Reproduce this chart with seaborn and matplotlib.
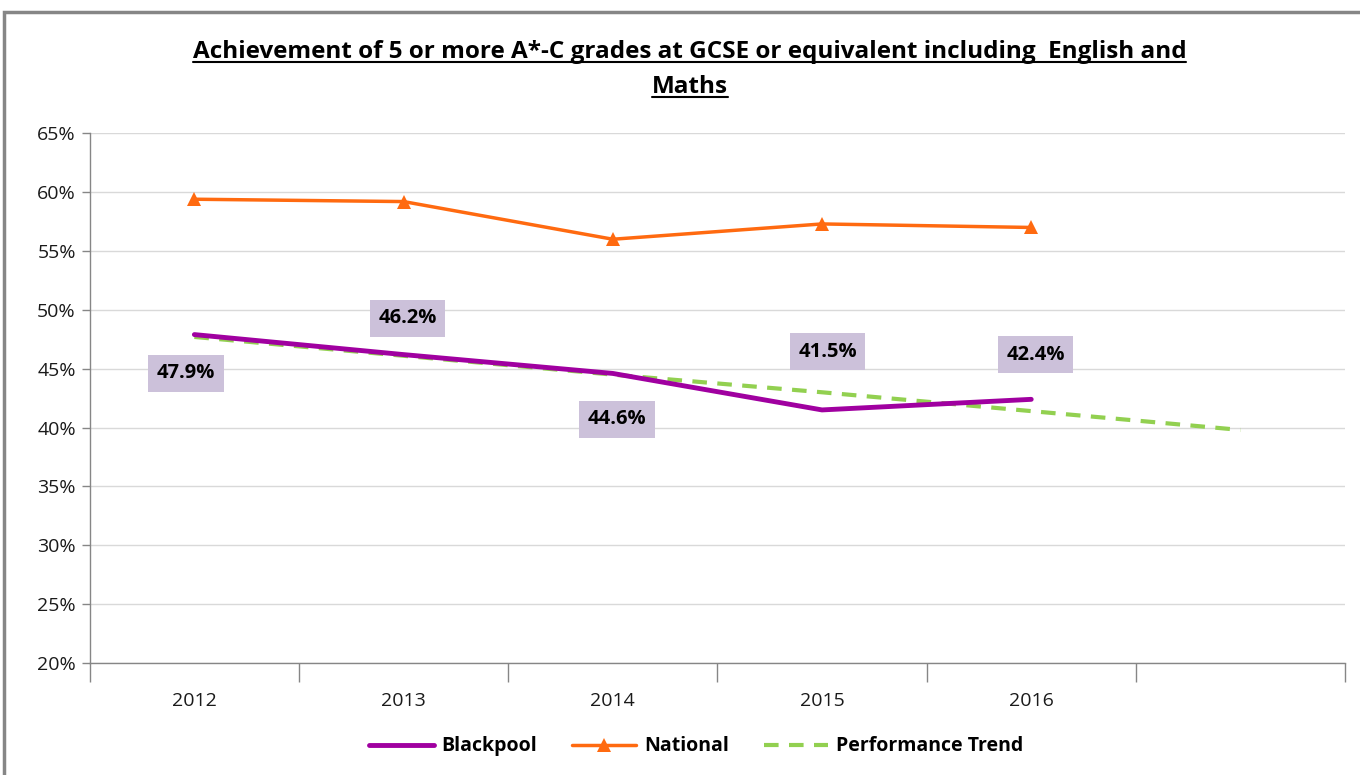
import matplotlib
matplotlib.use("Agg")
import matplotlib.pyplot as plt
import seaborn as sns
import pandas as pd
from matplotlib.lines import Line2D
from matplotlib.patches import Rectangle
from matplotlib.ticker import FuncFormatter, FixedLocator

# data
years = ["2012", "2013", "2014", "2015", "2016"]
blackpool = [47.9, 46.2, 44.6, 41.5, 42.4]
national = [59.4, 59.2, 56.0, 57.3, 57.0]
trend = [47.7, 46.1, 44.5, 43.0, 41.4, 39.8]   # runs one slot past 2016
label_text = ["47.9%", "46.2%", "44.6%", "41.5%", "42.4%"]

sns.set_theme(style="white")
plt.rcParams["font.family"] = ["Open Sans", "DejaVu Sans"]

df_b = pd.DataFrame({"pos": range(len(years)), "val": blackpool})
df_n = pd.DataFrame({"pos": range(len(years)), "val": national})
df_t = pd.DataFrame({"pos": range(len(trend)), "val": trend})

fig = plt.figure(figsize=(13.6, 7.75), dpi=100)
ax = fig.add_axes([0.066, 0.1445, 0.923, 0.6835])

sns.lineplot(data=df_t, x="pos", y="val", ax=ax, color="#92D050", lw=3,
             linestyle=(0, (3.5, 2.5)), label="Performance Trend", zorder=2)
sns.lineplot(data=df_b, x="pos", y="val", ax=ax, color="#A000A0", lw=3.5,
             label="Blackpool", zorder=3)
sns.lineplot(data=df_n, x="pos", y="val", ax=ax, color="#FF6A10", lw=2.5,
             marker="^", markersize=10, markeredgewidth=0, label="National", zorder=3)

# data labels for Blackpool
offsets = [(-6, -28), (3, 26), (3, -33), (4, 42), (3, 32)]
for i, (v, t) in enumerate(zip(blackpool, label_text)):
    ax.annotate(t, (i, v), xytext=offsets[i], textcoords="offset points",
                ha="center", va="center", fontsize=14.5, fontweight="bold",
                color="black", zorder=5,
                bbox=dict(boxstyle="square,pad=0.42", fc="#CCC1DA", ec="none"))

ax.set_xlim(-0.5, 5.5)
ax.set_ylim(20, 65)
ax.set_yticks(range(20, 70, 5))
ax.yaxis.set_major_formatter(FuncFormatter(lambda v, p: f"{int(v)}%"))
ax.yaxis.grid(True, color="#D9D9D9", lw=1)
ax.set_axisbelow(True)

ax.xaxis.set_major_locator(FixedLocator([x - 0.5 for x in range(7)]))
ax.xaxis.set_minor_locator(FixedLocator(list(range(len(years)))))
ax.set_xticklabels([], minor=False)
ax.set_xticklabels(years, minor=True)
ax.tick_params(axis="x", which="major", direction="out", length=14, width=1,
               color="#868686", bottom=True)
ax.tick_params(axis="x", which="minor", length=0, pad=21, labelsize=14,
               labelcolor="#1a1a1a")
ax.tick_params(axis="y", direction="out", length=6, width=1, color="#868686",
               left=True, labelsize=14, labelcolor="#1a1a1a", pad=4)
ax.set_xlabel("")
ax.set_ylabel("")

for s in ["top", "right"]:
    ax.spines[s].set_visible(False)
for s in ["left", "bottom"]:
    ax.spines[s].set_color("#868686")
    ax.spines[s].set_linewidth(1)

handles, labels = ax.get_legend_handles_labels()
order = [labels.index(n) for n in ["Blackpool", "National", "Performance Trend"]]
leg = fig.legend([handles[i] for i in order], [labels[i] for i in order],
                 loc="center", bbox_to_anchor=(0.512, 0.037), ncol=3, frameon=False,
                 prop={"weight": "bold", "size": 14}, handlelength=3.3,
                 columnspacing=1.8, handletextpad=0.4, labelcolor="black")
ax.get_legend().remove()

# title with underline
title_lines = ["Achievement of 5 or more A*-C grades at GCSE or equivalent including  English and",
               "Maths"]
title_y = [0.933, 0.888]
fig.canvas.draw()
r = fig.canvas.get_renderer()
for line, y in zip(title_lines, title_y):
    t = fig.text(0.507, y, line, ha="center", va="center", fontsize=17.5,
                 fontweight="bold", color="black", fontstretch="condensed",
                 family=["Open Sans", "DejaVu Sans"])
    bb = t.get_window_extent(renderer=r).transformed(fig.transFigure.inverted())
    fig.add_artist(Line2D([bb.x0, bb.x1], [bb.y0 + 0.002, bb.y0 + 0.002],
                          transform=fig.transFigure, color="black", lw=1.5))

# outer chart frame
fig.add_artist(Rectangle((0.003, -0.02), 1.1, 1.005, transform=fig.transFigure,
                         fill=False, ec="#868686", lw=2.5))

fig.savefig("out.png", dpi=100)
